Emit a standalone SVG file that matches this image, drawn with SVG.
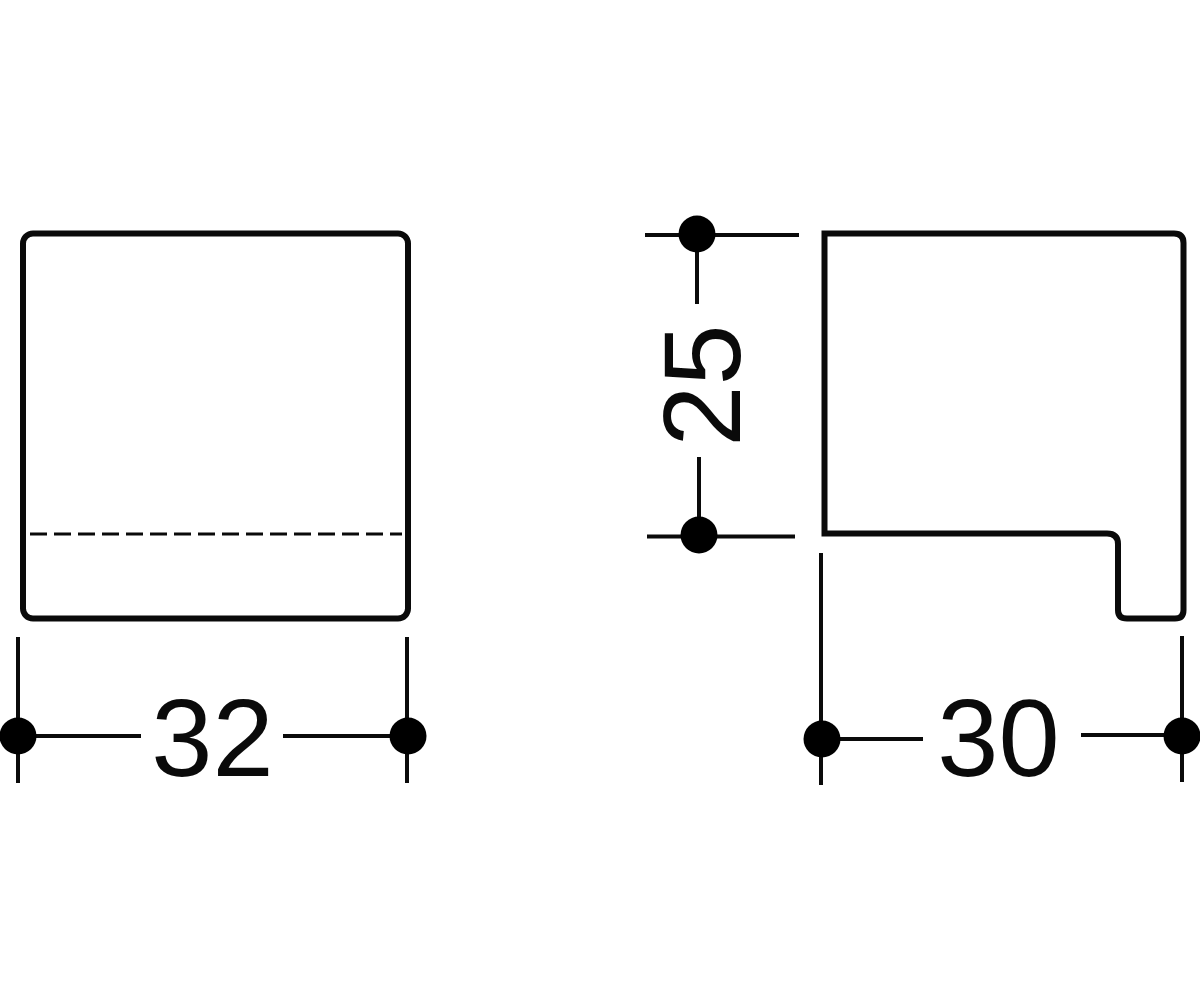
<svg xmlns="http://www.w3.org/2000/svg" width="1200" height="1000" viewBox="0 0 1200 1000">
<style>
.o{fill:none;stroke:#0a0a0a;stroke-width:6}
.d{fill:none;stroke:#0a0a0a;stroke-width:4}
.h{fill:none;stroke:#0a0a0a;stroke-width:2.800;stroke-dasharray:17 7}
.p{fill:#000}
.t{font-family:"Liberation Sans",Arial,sans-serif;font-size:110px;fill:#0a0a0a}
</style>
<rect width="1200" height="1000" fill="#fff"/>
<g id="front">
<rect class="o" x="23" y="233.500" width="385" height="385" rx="10"/>
<path class="h" d="M30 534H402"/>
</g>
<g id="side">
<path class="o" d="M824.500 233.500H1174Q1183.500 233.500 1183.500 243V610Q1183.500 618.500 1175 618.500H1127Q1118 618.500 1118 610V544Q1118 533.500 1107 533.500H824.500Z"/>
</g>
<g id="connectors">
<path class="d" d="M18 637V783M407 637V783M18 736H141M283 736H407"/>
<path class="d" d="M821 553V785M1182 636V782M822 739H923M1081 735H1182"/>
<path class="d" d="M645 235H799M697 235V304M647 536.500H795M699 457V536"/>
<circle class="p" cx="18" cy="736" r="18.500"/><circle class="p" cx="408" cy="736" r="18.500"/>
<circle class="p" cx="822" cy="739" r="18.500"/><circle class="p" cx="1182" cy="736" r="18.500"/>
<circle class="p" cx="697" cy="234" r="18.500"/><circle class="p" cx="699" cy="535" r="18.500"/>
</g>
<text class="t" x="212.500" y="776" text-anchor="middle">32</text>
<text class="t" x="998.500" y="776" text-anchor="middle">30</text>
<text class="t" transform="translate(740 385.500) rotate(-90)" text-anchor="middle">25</text>
</svg>
